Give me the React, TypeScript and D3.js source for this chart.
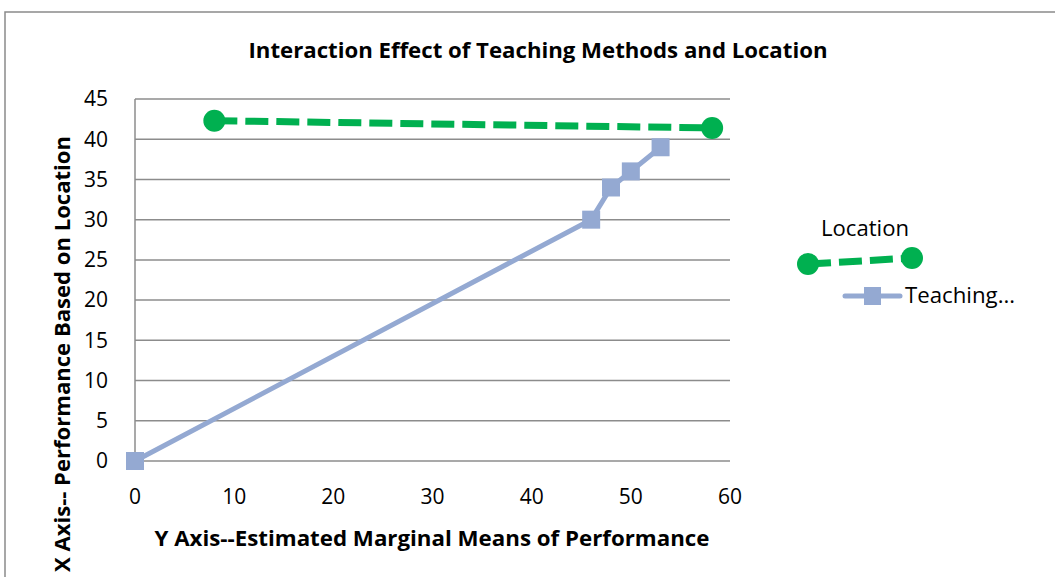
import React from 'react';
import * as d3 from 'd3';

// Location series (x = estimated marginal mean, y = performance)
const locationX = [8.0, 58.2];
const locationY = [42.3, 41.4];

// Teaching methods series
const teachingX = [0, 46, 48, 50, 53];
const teachingY = [0, 30, 34, 36, 39];

const xTicks = [0, 10, 20, 30, 40, 50, 60];
const yTicks = [0, 5, 10, 15, 20, 25, 30, 35, 40, 45];

const seriesNames = ['Location', 'Teaching…'];

const GREEN = '#00B050';
const BLUE = '#94A9D2';
const GRID = '#8c8c8c';
const FONT = '"Open Sans", "Noto Sans", sans-serif';

const App = () => {
    const width = 1055;
    const height = 577;

    const xScale = d3.scaleLinear().domain([0, 60]).range([135, 730]);
    const yScale = d3.scaleLinear().domain([0, 45]).range([461, 99]);

    const pathOf = d3.line<[number, number]>()
        .x(d => xScale(d[0]))
        .y(d => yScale(d[1]));

    const locPath = pathOf(locationX.map((x, i) => [x, locationY[i]]));
    const teachPath = pathOf(teachingX.map((x, i) => [x, teachingY[i]]));

    return (
        <svg width={width} height={height}
             style={{ position: 'absolute', left: 0, top: 0, background: '#fff' }}
             fontFamily={FONT}>
            {/* chart frame */}
            <rect x={5} y={12} width={1100} height={600} fill="none" stroke="#8a8a8a" strokeWidth={1.5} />

            <text x={538} y={58} textAnchor="middle" fontWeight="bold" fontSize={21.5}
                  textLength={579} lengthAdjust="spacingAndGlyphs">
                Interaction Effect of Teaching Methods and Location
            </text>

            {/* gridlines */}
            {yTicks.map(t => (
                <line key={t} x1={xScale(0)} x2={xScale(60)} y1={yScale(t)} y2={yScale(t)}
                      stroke={GRID} strokeWidth={1.5} />
            ))}
            <line x1={xScale(0)} x2={xScale(0)} y1={yScale(0)} y2={yScale(45)} stroke={GRID} strokeWidth={1.5} />

            {/* y tick labels */}
            {yTicks.map(t => (
                <text key={t} x={108} y={yScale(t)} dy="0.35em" textAnchor="end" fontSize={21}>{t}</text>
            ))}
            {/* x tick labels */}
            {xTicks.map(t => (
                <text key={t} x={xScale(t)} y={504} textAnchor="middle" fontSize={21}>{t}</text>
            ))}

            <text x={432} y={546} textAnchor="middle" fontWeight="bold" fontSize={21.5}
                  textLength={555} lengthAdjust="spacingAndGlyphs">
                Y Axis--Estimated Marginal Means of Performance
            </text>
            <text transform="translate(70,354) rotate(-90)" textAnchor="middle" fontWeight="bold" fontSize={21.5}
                  textLength={436} lengthAdjust="spacingAndGlyphs">
                X Axis-- Performance Based on Location
            </text>

            {/* teaching series */}
            <path d={teachPath ?? ''} fill="none" stroke={BLUE} strokeWidth={5} strokeLinejoin="round" />
            {teachingX.map((x, i) => (
                <rect key={i} x={xScale(x) - 9} y={yScale(teachingY[i]) - 9} width={18} height={18} fill={BLUE} />
            ))}

            {/* location series */}
            <path d={locPath ?? ''} fill="none" stroke={GREEN} strokeWidth={7} strokeDasharray="23 8" />
            {locationX.map((x, i) => (
                <circle key={i} cx={xScale(x)} cy={yScale(locationY[i])} r={11} fill={GREEN} />
            ))}

            {/* legend */}
            <text x={821} y={236} fontSize={21} textLength={88} lengthAdjust="spacingAndGlyphs">{seriesNames[0]}</text>
            <line x1={808} y1={264} x2={912} y2={258} stroke={GREEN} strokeWidth={7} strokeDasharray="23 8" />
            <circle cx={808} cy={264} r={11} fill={GREEN} />
            <circle cx={912} cy={258} r={11} fill={GREEN} />

            <line x1={845} y1={296} x2={900} y2={296} stroke={BLUE} strokeWidth={5} strokeLinecap="round" />
            <rect x={864} y={287} width={17} height={18} fill={BLUE} />
            <text x={905} y={303} fontSize={21} textLength={110} lengthAdjust="spacingAndGlyphs">{seriesNames[1]}</text>
        </svg>
    );
};

export default App;
